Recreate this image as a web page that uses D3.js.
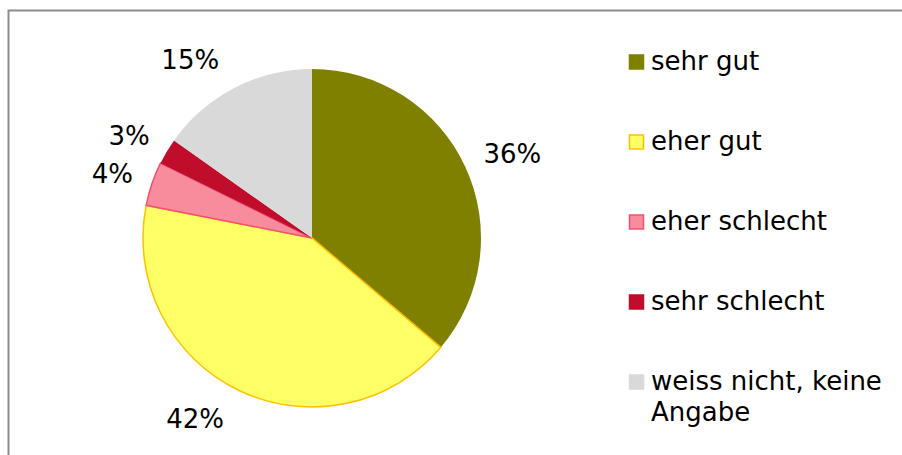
<!DOCTYPE html>
<html>
<head>
<meta charset="utf-8">
<script src="https://cdn.jsdelivr.net/npm/d3@7"></script>
<style>
  body { margin: 0; background: #fff; }
  text { font-family: "DejaVu Sans", Verdana, sans-serif; fill: #000; }
</style>
</head>
<body>
<svg id="chart" width="902" height="455"></svg>
<script>
// categories and shares (percent)
var categories = ["sehr gut", "eher gut", "eher schlecht", "sehr schlecht", "weiss nicht, keine Angabe"];
var values = [36.2, 41.9, 4.2, 2.5, 15.2];
var fills = ["#808000", "#ffff66", "#f98c9c", "#c00d2b", "#d9d9d9"];
var strokes = ["none", "#ffc000", "#f4506e", "none", "none"];

var svg = d3.select("#chart");
var fontSize = 26;

// frame
svg.append("rect")
    .attr("x", 8.5).attr("y", 10.5)
    .attr("width", 910).attr("height", 470)
    .attr("fill", "none")
    .attr("stroke", "#8c8c8c")
    .attr("stroke-width", 2);

var cx = 312, cy = 238, r = 169;
var data = categories.map(function (c, i) { return {name: c, value: values[i], i: i}; });

var pie = d3.pie().sort(null).value(function (d) { return d.value; });
var arc = d3.arc().innerRadius(0).outerRadius(r);
var arcs = pie(data);

var g = svg.append("g").attr("transform", "translate(" + cx + "," + cy + ")");

g.selectAll("path.slice")
    .data(arcs)
    .enter().append("path")
    .attr("class", "slice")
    .attr("d", arc)
    .attr("fill", function (d) { return fills[d.data.i]; })
    .attr("stroke", function (d) { return strokes[d.data.i]; })
    .attr("stroke-width", 1.5);

// outside labels: the text box touches a point just outside the pie
var labelR = r + 20;
g.selectAll("text.lbl")
    .data(arcs)
    .enter().append("text")
    .attr("class", "lbl")
    .attr("font-size", fontSize)
    .each(function (d) {
        var a = (d.startAngle + d.endAngle) / 2;
        var dx = Math.sin(a), dy = -Math.cos(a);
        var px = dx * labelR, py = dy * labelR;
        // labels close to vertical sit a bit further out sideways
        var shift = Math.abs(dx) < 0.6 ? (dx >= 0 ? 6 : -6) : 0;
        d3.select(this)
            .attr("x", px + shift)
            .attr("y", py + dy * 12)
            .attr("dy", "0.36em")
            .attr("text-anchor", dx >= 0 ? "start" : "end")
            .text(Math.round(d.data.value) + "%");
    });

// legend
var ly = d3.scalePoint().domain(categories).range([62, 382]);
var legend = svg.append("g").attr("transform", "translate(629,0)");
var item = legend.selectAll("g.item")
    .data(data)
    .enter().append("g")
    .attr("class", "item")
    .attr("transform", function (d) { return "translate(0," + ly(d.name) + ")"; });

item.append("rect")
    .attr("x", 0.5).attr("y", -7)
    .attr("width", 14).attr("height", 14)
    .attr("fill", function (d) { return fills[d.i]; })
    .attr("stroke", function (d) { return strokes[d.i] === "none" ? fills[d.i] : strokes[d.i]; })
    .attr("stroke-width", 1.5);

item.append("text")
    .attr("x", 22)
    .attr("font-size", fontSize)
    .each(function (d) {
        var t = d3.select(this);
        var parts = d.name === "weiss nicht, keine Angabe" ? ["weiss nicht, keine", "Angabe"] : [d.name];
        parts.forEach(function (p, k) {
            t.append("tspan").attr("x", 22).attr("y", 8 + k * 31).text(p);
        });
    });
</script>
</body>
</html>
